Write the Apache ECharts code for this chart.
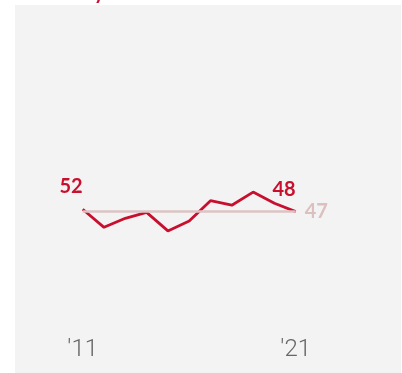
<!DOCTYPE html>
<html>
<head>
<meta charset="utf-8">
<script src="https://cdn.jsdelivr.net/npm/echarts@6/dist/echarts.min.js"></script>
<style>html,body{margin:0;padding:0;background:#fff;}#c{width:402px;height:373px;}</style>
</head>
<body>
<div id="c"></div>
<script>
var categories = ["'11","'12","'13","'14","'15","'16","'17","'18","'19","'20","'21"];
var tickLabels = ["'11","'21"];
var values = [52, 44.4, 48.2, 50.7, 42.9, 47.1, 55.6, 53.7, 59.2, 54.5, 51.0];
var refValue = 51.0;
var startLabel = "52";
var endLabel = "48";
var refLabel = "47";
var titleFragment = "y";

var RED = '#c8102e';
var chart = echarts.init(document.getElementById('c'), null, {renderer: 'canvas'});
var data = values.map(function (v, i) {
  var item = {value: v};
  if (i === 0) {
    item.label = {show: true, formatter: startLabel, position: 'top', align: 'right', distance: 13};
  } else if (i === values.length - 1) {
    item.label = {show: true, formatter: endLabel, position: 'top', align: 'right', distance: 12};
  }
  return item;
});
chart.setOption({
  animation: false,
  graphic: [
    {type: 'rect', z: -10, shape: {x: 15, y: 5, width: 386, height: 368}, style: {fill: '#f3f3f3'}},
    {type: 'text', z: 10, left: 94, top: -17, style: {text: titleFragment, fill: RED, font: 'bold 20px Lato'}}
  ],
  grid: {left: 82.7, right: 106.3, top: 95, bottom: 40},
  xAxis: {
    type: 'category', data: categories, boundaryGap: false,
    axisLine: {show: false}, axisTick: {show: false}, splitLine: {show: false},
    axisLabel: {
      interval: 0, margin: 5, color: '#666', fontFamily: 'Roboto', fontWeight: 300, fontSize: 24,
      formatter: function (v) { return tickLabels.indexOf(v) >= 0 ? v : ''; }
    }
  },
  yAxis: {type: 'value', min: 0, max: 100, show: false, splitLine: {show: false}},
  series: [
    {
      type: 'line', z: 1, data: [], silent: true,
      markLine: {
        silent: true, symbol: 'none',
        lineStyle: {color: '#ddc3c3', width: 2.5, type: 'solid'},
        label: {show: true, position: 'end', formatter: refLabel, color: '#dcc0c0', fontFamily: 'Lato', fontWeight: 'bold', fontSize: 20, distance: 9},
        data: [{yAxis: refValue}]
      }
    },
    {
      type: 'line', z: 3, data: data, symbol: 'circle', symbolSize: 0, showSymbol: true,
      lineStyle: {color: RED, width: 2.8}, itemStyle: {color: RED},
      label: {show: false, color: RED, fontFamily: 'Lato', fontWeight: 'bold', fontSize: 20}
    }
  ]
});
</script>
</body>
</html>
